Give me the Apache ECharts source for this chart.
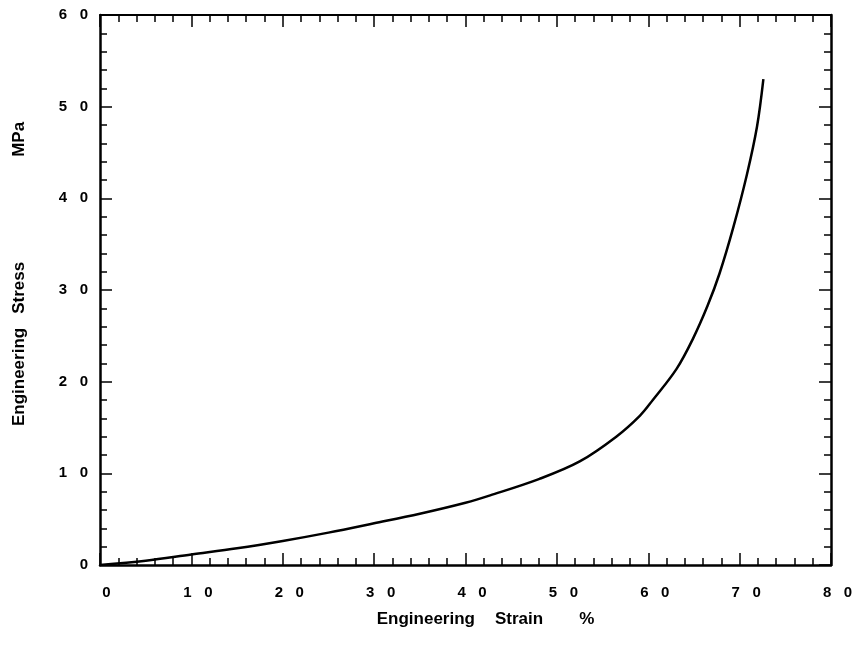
<!DOCTYPE html>
<html>
<head>
<meta charset="utf-8">
<script src="https://cdn.jsdelivr.net/npm/echarts@6/dist/echarts.min.js"></script>
<style>
html,body{margin:0;padding:0;background:#fff;}
#chart{width:858px;height:648px;}
</style>
</head>
<body>
<div id="chart"></div>
<script>
// Engineering strain (%) and engineering stress (MPa)
const strain = [0, 5, 10, 15, 20, 25, 30, 35, 40, 42.7, 48.1, 52.5, 56.5, 59.1, 60.5, 63.1, 64.9, 66.5, 67.8, 69.3, 70.8, 71.9, 72.6];
const stress = [0, 0.47, 1.15, 1.82, 2.62, 3.53, 4.55, 5.6, 6.8, 7.6, 9.4, 11.3, 14.0, 16.3, 18.0, 21.4, 24.7, 28.3, 31.8, 36.8, 42.6, 47.8, 53.0];
const xTicks = [0, 10, 20, 30, 40, 50, 60, 70, 80];
const yTicks = [0, 10, 20, 30, 40, 50, 60];

const FONT = '"Liberation Sans", Arial, Helvetica, sans-serif';
const spaced = v => String(v).split('').join('   ');

const chart = echarts.init(document.getElementById('chart'), null, {renderer: 'canvas'});

const tickCommon = {
  axisLine: {show: true, onZero: false, lineStyle: {color: '#000', width: 2.5}},
  axisTick: {show: true, inside: true, length: 12, lineStyle: {color: '#000', width: 1.5}},
  minorTick: {show: true, splitNumber: 5, length: 7, lineStyle: {color: '#000', width: 1.5}},
  splitLine: {show: false},
  minorSplitLine: {show: false}
};

const option = {
  backgroundColor: '#fff',
  animation: false,
  grid: {left: 100, right: 27, top: 15, bottom: 83, containLabel: false},
  xAxis: [
    Object.assign({
      type: 'value', position: 'bottom', min: xTicks[0], max: xTicks[xTicks.length - 1], interval: 10,
      axisLabel: {
        formatter: v => spaced(v), margin: 20, color: '#000',
        fontFamily: FONT, fontWeight: 'bold', fontSize: 15, padding: [0, 0, 0, 13]
      },
      name: '{t|Engineering}{g1|}{t|Strain}{g2|}{t|%}',
      nameLocation: 'middle', nameGap: 46,
      nameTextStyle: {
        padding: [0, 0, 0, 40],
        rich: {
          t: {fontFamily: FONT, fontWeight: 'bold', fontSize: 17, color: '#000'},
          g1: {width: 20},
          g2: {width: 36}
        }
      }
    }, tickCommon),
    Object.assign({
      type: 'value', position: 'top', min: xTicks[0], max: xTicks[xTicks.length - 1], interval: 10,
      axisLabel: {show: false}
    }, tickCommon, {axisLine: {show: true, onZero: false, lineStyle: {color: '#000', width: 2}}})
  ],
  yAxis: [
    Object.assign({
      type: 'value', position: 'left', min: yTicks[0], max: yTicks[yTicks.length - 1], interval: 10,
      axisLabel: {
        formatter: v => spaced(v), margin: 12, color: '#000',
        fontFamily: FONT, fontWeight: 'bold', fontSize: 15, padding: [8, 0, 0, 0]
      },
      name: '{t|Engineering}{g1|}{t|Stress}{g2|}{t|MPa}',
      nameLocation: 'middle', nameGap: 72, nameRotate: 90,
      nameTextStyle: {
        padding: [0, 0, 0, 32],
        rich: {
          t: {fontFamily: FONT, fontWeight: 'bold', fontSize: 17, color: '#000'},
          g1: {width: 14},
          g2: {width: 105}
        }
      }
    }, tickCommon),
    Object.assign({
      type: 'value', position: 'right', min: yTicks[0], max: yTicks[yTicks.length - 1], interval: 10,
      axisLabel: {show: false}
    }, tickCommon)
  ],
  series: [{
    type: 'line',
    xAxisIndex: 0, yAxisIndex: 0,
    data: strain.map((x, i) => [x, stress[i]]),
    smooth: 0.35,
    showSymbol: false,
    lineStyle: {color: '#000', width: 2.5},
    itemStyle: {color: '#000'}
  }]
};
chart.setOption(option);
</script>
</body>
</html>
